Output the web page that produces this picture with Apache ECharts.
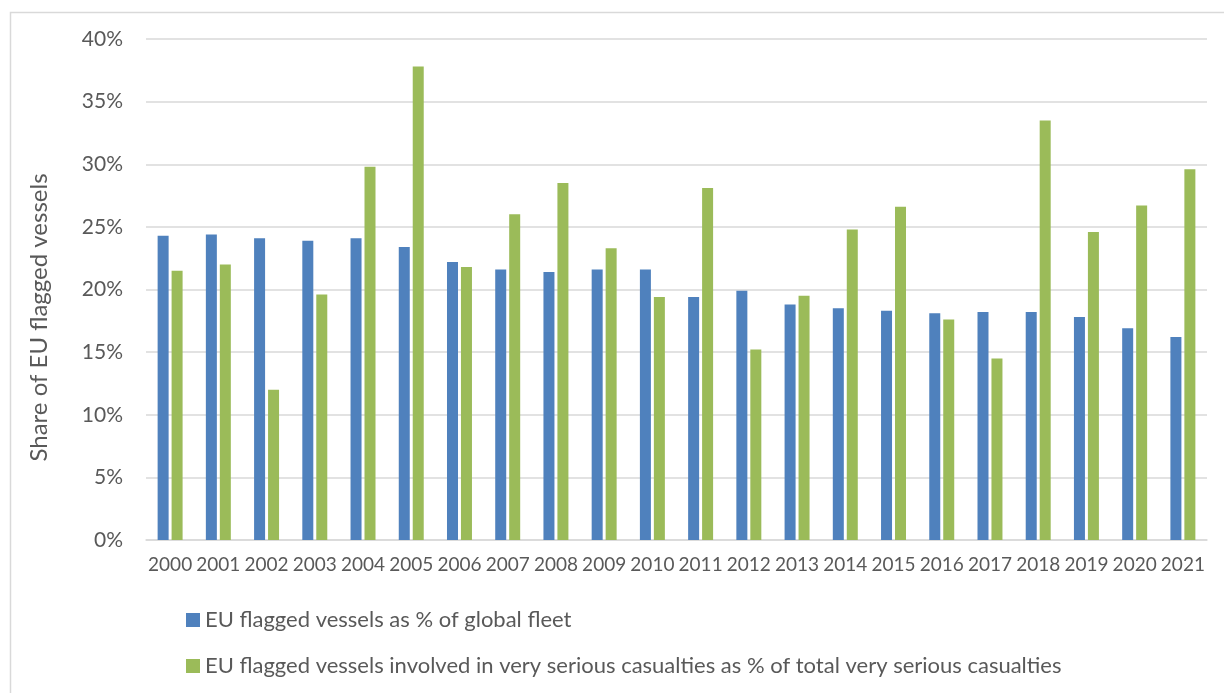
<!DOCTYPE html>
<html>
<head>
<meta charset="utf-8">
<title>Share of EU flagged vessels</title>
<script src="https://cdn.jsdelivr.net/npm/echarts@6/dist/echarts.min.js"></script>
<style>
  html, body { margin: 0; padding: 0; background: #fff; }
  #chart { width: 1224px; height: 693px; }
</style>
</head>
<body>
<div id="chart"></div>
<script>
// values (percent)
const years = ['2000', '2001', '2002', '2003', '2004', '2005', '2006', '2007', '2008', '2009', '2010',
  '2011', '2012', '2013', '2014', '2015', '2016', '2017', '2018', '2019', '2020', '2021']
const globalFleetShare = [24.3, 24.4, 24.1, 23.9, 24.1, 23.4, 22.2, 21.6, 21.4, 21.6, 21.6,
  19.4, 19.9, 18.8, 18.5, 18.3, 18.1, 18.2, 18.2, 17.8, 16.9, 16.2]
const casualtyShare = [21.5, 22.0, 12.0, 19.6, 29.8, 37.8, 21.8, 26.0, 28.5, 23.3, 19.4,
  28.1, 15.2, 19.5, 24.8, 26.6, 17.6, 14.5, 33.5, 24.6, 26.7, 29.6]
const seriesNames = [
  'EU flagged vessels as % of global fleet',
  'EU flagged vessels involved in very serious casualties as % of total very serious casualties'
]

const FONT = 'Lato, "Open Sans", sans-serif'
const TEXT = '#595959'
const GRID_LINE = '#d9d9d9'
const colors = ['#4f81bd', '#9bbb59']

const chart = echarts.init(document.getElementById('chart'))

chart.setOption({
  animation: false,
  backgroundColor: '#fff',
  textStyle: { fontFamily: FONT, color: TEXT },
  // light frame round the chart area
  graphic: [{
    type: 'rect',
    left: 8,
    top: 10,
    shape: { width: 1240, height: 700 },
    style: { fill: 'none', stroke: GRID_LINE, lineWidth: 1.5 },
    silent: true
  }],
  grid: { left: 146, right: 17, top: 39, bottom: 153, containLabel: false },
  legend: {
    orient: 'vertical',
    left: 186,
    top: 609,
    padding: 0,
    itemWidth: 14,
    itemHeight: 14,
    itemGap: 24,
    icon: 'rect',
    textStyle: { fontFamily: FONT, color: TEXT, fontSize: 22, lineHeight: 22 },
    data: seriesNames
  },
  xAxis: {
    type: 'category',
    data: years,
    axisLine: { show: true, lineStyle: { color: GRID_LINE, width: 1.5 } },
    axisTick: { show: false },
    axisLabel: { color: TEXT, fontSize: 19, fontFamily: FONT, margin: 15, interval: 0 }
  },
  yAxis: {
    type: 'value',
    min: 0,
    max: 40,
    interval: 5,
    name: 'Share of EU flagged vessels',
    nameLocation: 'middle',
    nameGap: 95,
    nameTextStyle: { color: TEXT, fontSize: 24, fontFamily: FONT, padding: [0, 56, 0, 0] },
    axisLine: { show: false },
    axisTick: { show: false },
    axisLabel: { color: TEXT, fontSize: 21, fontFamily: FONT, margin: 23, formatter: '{value}%' },
    splitLine: { lineStyle: { color: GRID_LINE, width: 1.5 } }
  },
  series: [
    {
      name: seriesNames[0],
      type: 'bar',
      data: globalFleetShare,
      barWidth: 11,
      barGap: '27%',
      itemStyle: { color: colors[0] }
    },
    {
      name: seriesNames[1],
      type: 'bar',
      data: casualtyShare,
      barWidth: 11,
      barGap: '27%',
      itemStyle: { color: colors[1] }
    }
  ]
})
</script>
</body>
</html>
